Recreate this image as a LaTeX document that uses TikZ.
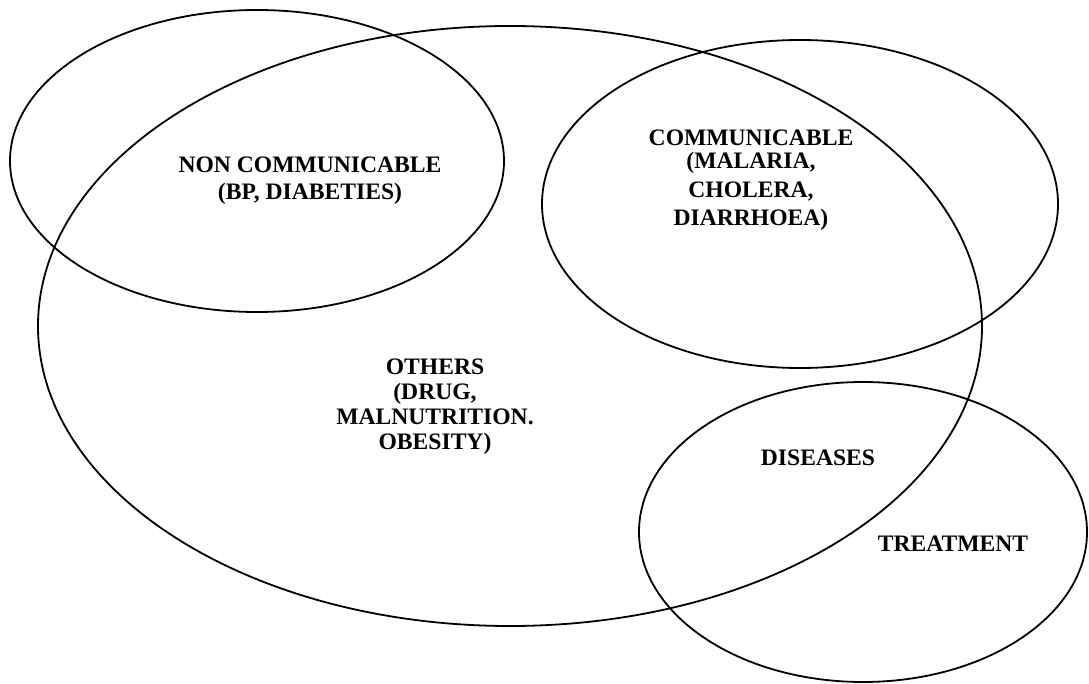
\documentclass[tikz,border=0pt]{standalone}
\usepackage{fontspec}
\setmainfont{Liberation Serif}
\begin{document}
\begin{tikzpicture}[x=1pt,y=-1pt,
  ring/.style={draw=black,line width=1.8pt},
  lbl/.style={font=\fontsize{23.6}{25}\bfseries\selectfont,inner sep=0pt,align=center}]
\useasboundingbox (0,0) rectangle (1089,684);
% ellipses
\draw[ring] (510,326) ellipse [x radius=472pt, y radius=300pt];
\draw[ring] (257,161) ellipse [x radius=247pt, y radius=151pt];
\draw[ring] (800,204) ellipse [x radius=258pt, y radius=164pt];
\draw[ring] (863,532) ellipse [x radius=224pt, y radius=150pt];
% labels
\node[lbl,anchor=north,font=\fontsize{23.6}{27}\bfseries\selectfont] (nc) at (310,157)
  {NON COMMUNICABLE\\(BP, DIABETIES)};
\node[lbl,anchor=north,font=\fontsize{23.6}{28.5}\bfseries\selectfont] (cm) at (751,130)
  {COMMUNICABLE\\[-5.5pt](MALARIA,\\CHOLERA,\\DIARRHOEA)};
\node[lbl,anchor=north] (ot) at (435,359)
  {OTHERS\\(DRUG,\\MALNUTRITION.\\OBESITY)};
\node[lbl,anchor=base] (ds) at (818,465) {DISEASES};
\node[lbl,anchor=base] (tr) at (953,551) {TREATMENT};
\end{tikzpicture}
\end{document}
